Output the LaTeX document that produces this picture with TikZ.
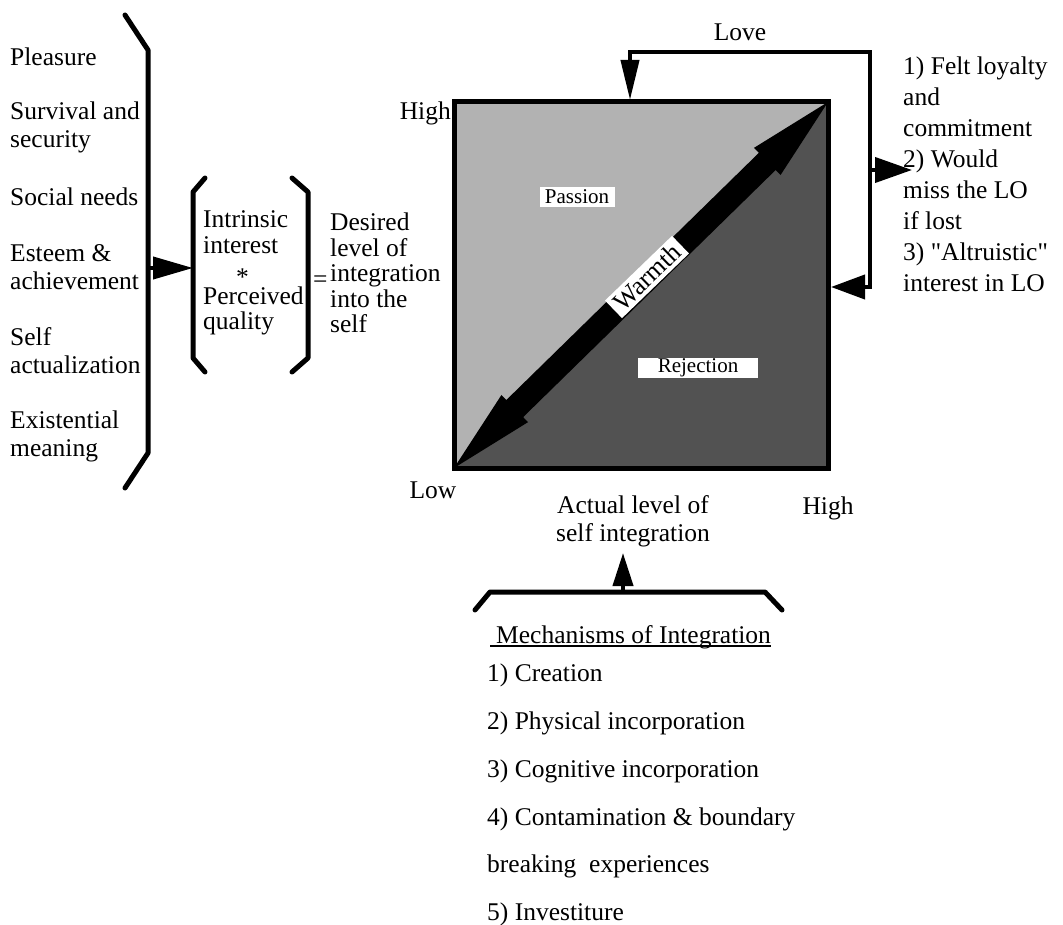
\documentclass[tikz,border=0pt]{standalone}
\usepackage{fontspec}
\setmainfont{Liberation Serif}
\usetikzlibrary{arrows.meta,calc}

\tikzset{
  txt/.style={font=\fontsize{25.5}{28}\selectfont, inner sep=0pt, align=left, anchor=west},
  tag/.style={fill=white, font=\fontsize{21}{24}\selectfont, inner sep=0pt},
  brk/.style={line width=5pt, line cap=round, line join=round},
  conn/.style={line width=4pt},
}

\begin{document}
\begin{tikzpicture}[x=1pt,y=-1pt]
\useasboundingbox (0,0) rectangle (1063,925);

% needs
\node[txt] (pleas) at (10,57) {Pleasure};
\node[txt] (surv) at (10,127) {Survival and\\security};
\node[txt] (soc) at (10,197) {Social needs};
\node[txt] (est) at (10,267) {Esteem \&\\achievement};
\node[txt] (selfact) at (10,351) {Self\\actualization};
\node[txt] (exist) at (10,436) {Existential\\meaning};
\draw[brk] (125,15) -- (148,50) -- (148,453) -- (125,488);
\coordinate (needs) at (148,268);

% interest * quality
\draw[brk] (205,178) -- (193,192) -- (193,358) -- (205,372);
\draw[brk] (292,178) -- (308,192) -- (308,358) -- (292,372);
\coordinate (prod) at (193,268);
\draw[conn,-{Triangle[length=40pt,width=22pt]}] (needs) -- (prod);
\node[txt,font=\fontsize{25.5}{25.5}\selectfont] (intr) at (203,273)
  {Intrinsic\\interest\\\hspace*{33pt}\raisebox{-7pt}{*}\\Perceived\\quality};
\node[txt] (eq) at (313,282) {=};
\node[txt,font=\fontsize{25.5}{25.5}\selectfont] (desired) at (330,273)
  {Desired\\level of\\integration\\into the\\self};

% the square
\coordinate (ll) at (454,468);
\coordinate (ul) at (454,102);
\coordinate (ur) at (828,102);
\coordinate (lr) at (828,468);
\fill[black!30] (ll) -- (ul) -- (ur) -- cycle;
\fill[black!68] (ll) -- (lr) -- (ur) -- cycle;
\coordinate (ha) at ($(ll)!85pt!(ur)$);
\coordinate (hb) at ($(ur)!85pt!(ll)$);
\fill (ll) -- ($(ha)!19pt!90:(ur)$) -- ($(ha)!12pt!90:(ur)$) -- ($(hb)!12pt!-90:(ll)$)
  -- ($(hb)!19pt!-90:(ll)$) -- (ur) -- ($(hb)!19pt!90:(ll)$) -- ($(hb)!12pt!90:(ll)$)
  -- ($(ha)!12pt!-90:(ur)$) -- ($(ha)!19pt!-90:(ur)$) -- cycle;
\draw[line width=5pt] (ll) rectangle (ur);
\node[tag, minimum width=75pt, minimum height=20pt] (passion) at (577,197) {Passion};
\node[tag, minimum width=120pt, minimum height=20pt] (reject) at (698,368) {Rejection};
\node[tag, font=\fontsize{26}{26}\selectfont, rotate=44, inner xsep=5pt, inner ysep=3pt]
  (warmth) at (647,277) {Warmth};

% axes
\node[txt, anchor=east] (hiy) at (451,113) {High};
\node[txt, anchor=center] (lo) at (433,490) {Low};
\node[txt, anchor=center] (hix) at (828,508) {High};
\node[txt, anchor=center, align=center] (actual) at (633,521) {Actual level of\\self integration};

% mechanisms
\draw[brk] (475,610) -- (490,592) -- (765,592) -- (782,610);
\coordinate (mid) at (623,592);
\coordinate (up) at (623,553);
\draw[conn,-{Triangle[length=33pt,width=20pt]}] (mid) -- (up);
\node[txt, anchor=base west] (mechtitle) at (496,643) {Mechanisms of Integration};
\draw[line width=1.5pt] ($(mechtitle.base west)+(-6,3)$) -- ($(mechtitle.base east)+(0,3)$);
\node[txt, font=\fontsize{25.5}{47.8}\selectfont] (mechlist) at (487,795)
  {1) Creation\\2) Physical incorporation\\3) Cognitive incorporation\\4) Contamination \& boundary\\breaking\ \ experiences\\5) Investiture};

% love loop
\node[txt, anchor=center] (love) at (740,32) {Love};
\coordinate (lovein) at (630,100);
\coordinate (tl) at (630,52);
\coordinate (tr) at (870,52);
\coordinate (br) at (870,287);
\coordinate (rin) at (831,287);
\draw[conn,{Triangle[length=40pt,width=18pt]}-{Triangle[length=34pt,width=24pt]}]
  (lovein) -- (tl) -- (tr) -- (br) -- (rin);
\node[txt, font=\fontsize{25.5}{31}\selectfont] (effects) at (903,174)
  {1) Felt loyalty\\and\\commitment\\2) Would\\miss the LO\\if lost\\3) \textquotedbl Altruistic\textquotedbl\\interest in LO};
\coordinate (fa) at (870,170);
\coordinate (fb) at (912,170);
\draw[conn,-{Triangle[length=37pt,width=25pt]}] (fa) -- (fb);
\end{tikzpicture}
\end{document}
